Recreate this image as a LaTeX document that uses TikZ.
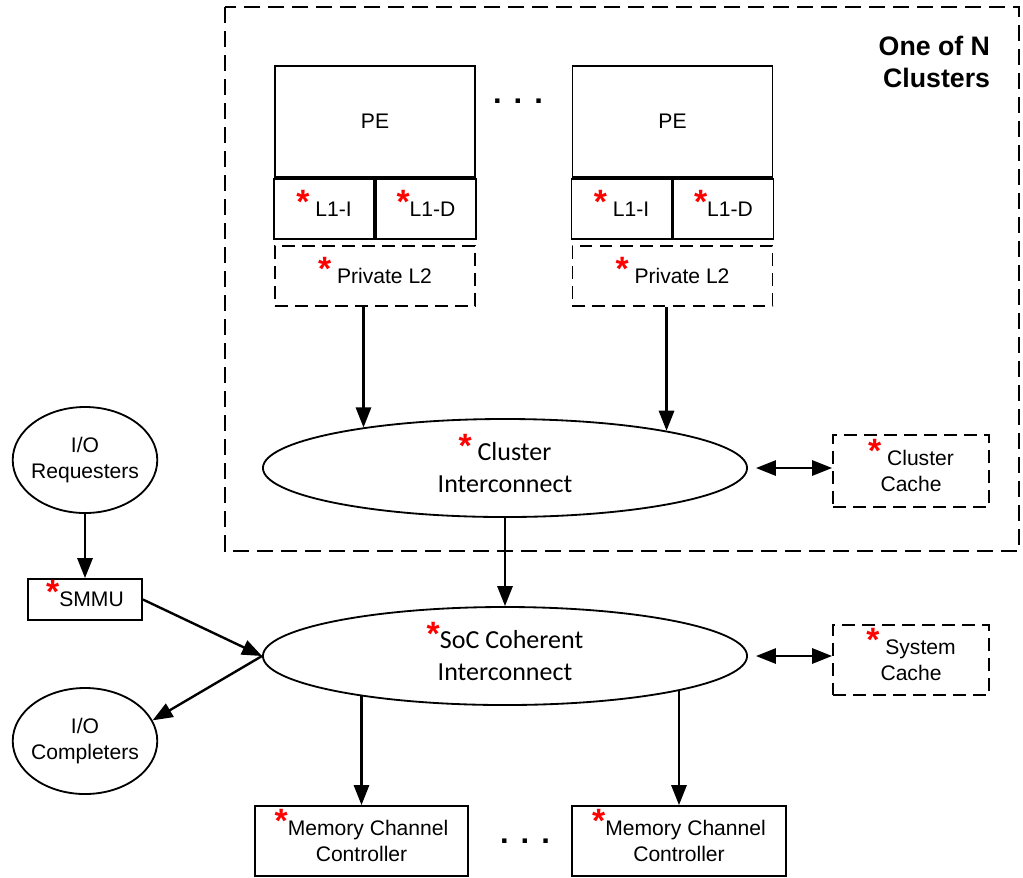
\documentclass[tikz,border=0pt]{standalone}
\usepackage{fontspec}
\setmainfont{Liberation Sans}
\newfontfamily\calib{Carlito}
\usetikzlibrary{arrows.meta}
\usetikzlibrary{shapes.geometric}
\newcommand{\rast}{\smash{\textcolor{red}{\raisebox{0.25ex}{\fontspec{Liberation Sans}\bfseries\fontsize{24}{24}\selectfont *}}}}
\newcommand{\pegroup}[2]{\node[blk, minimum width=5cm, minimum height=2.775cm] (pe#2) at (#1,121.5) {PE};
  \node[blk, minimum width=2.5cm, minimum height=1.5cm, anchor=north east] (l1i#2) at (pe#2.south) {\rast~L1-I};
  \node[blk, minimum width=2.5cm, minimum height=1.5cm, anchor=north west] (l1d#2) at (pe#2.south) {\rast L1-D};
  \node[dblk, minimum width=5cm, minimum height=1.5cm] (l2#2) at (#1,276) {\rast~Private L2};}
\tikzset{
  blk/.style={draw, line width=1.3pt, inner sep=0pt, align=center, font=\fontsize{15}{18.5}\selectfont},
  dblk/.style={blk, dash pattern=on 0.32cm off 0.18cm},
  bus/.style={draw, ellipse, line width=1.3pt, inner sep=0pt, align=center, minimum width=12.1cm, minimum height=2.45cm, font=\calib\fontsize{18.5}{22.7}\selectfont},
  ionode/.style={draw, ellipse, line width=1.3pt, inner xsep=-2pt, inner ysep=0pt, align=center, minimum width=3.6cm, minimum height=2.65cm, font=\fontsize{15}{18.5}\selectfont},
  link/.style={line width=1.7pt, -{Triangle[length=0.5cm,width=0.38cm]}},
  twoway/.style={line width=1.7pt, {Triangle[length=0.5cm,width=0.38cm]}-{Triangle[length=0.5cm,width=0.38cm]}},
  gap/.style={font=\bfseries\fontsize{22}{22}\selectfont, inner sep=0pt, anchor=base}
}
\begin{document}
\begin{tikzpicture}[x=0.025cm, y=-0.025cm]
    \useasboundingbox (0,0) rectangle (1023,877);
    % cluster frame
    \draw[line width=1.3pt, dash pattern=on 0.4cm off 0.2cm] (225,7) rectangle (1019,551);
    \node[anchor=east, align=right, font=\bfseries\fontsize{19}{22.7}\selectfont] (title) at (995,62) {One of N\\Clusters};
    % processing elements
    \pegroup{375}{a}
    \pegroup{672.5}{b}
    \node[gap] (dotsa) at (518,103) {.\hspace{0.3cm}.\hspace{0.3cm}.};
    % interconnects
    \node[bus] (ci) at (505,468) {\rast~Cluster\\Interconnect};
    \node[bus] (soc) at (505,656) {\rast SoC Coherent\\Interconnect};
    \node[dblk, minimum width=3.9cm, minimum height=1.8cm] (cc) at (911,471) {\rast~Cluster\\Cache};
    \node[dblk, minimum width=3.9cm, minimum height=1.75cm] (sc) at (911,660) {\rast~System\\Cache};
    % io side
    \node[ionode] (ioq) at (85,460) {I/O\\Requesters};
    \node[blk, minimum width=2.85cm, minimum height=1.025cm] (smmu) at (85,599.5) {\rast SMMU};
    \node[ionode] (ioc) at (85,741) {I/O\\Completers};
    % memory channels
    \node[blk, minimum width=5.325cm, minimum height=1.75cm] (mca) at (361.5,841) {\rast Memory Channel\\Controller};
    \node[blk, minimum width=5.35cm, minimum height=1.75cm] (mcb) at (679,841) {\rast Memory Channel\\Controller};
    \node[gap] (dotsb) at (525,843) {.\hspace{0.3cm}.\hspace{0.3cm}.};
    % arrows
    \draw[link] (l2a.south -| ci.164) -- (ci.164);
    \draw[link] (l2b.south -| ci.13) -- (ci.13);
    \draw[twoway] ([xshift=0.2cm]ci.east) -- (cc.west |- ci.east);
    \draw[link] (ci) -- (soc);
    \draw[twoway] ([xshift=0.2cm]soc.east) -- (sc.west |- soc.east);
    \draw[link] (ioq) -- (smmu);
    \draw[link] (smmu.east) -- (soc.west);
    \draw[link] (soc.west) -- (ioc.17);
    \draw[link] (soc.195 -| mca.north) -- (mca.north);
    \draw[link] (soc.-11 -| mcb.north) -- (mcb.north);
\end{tikzpicture}
\end{document}
